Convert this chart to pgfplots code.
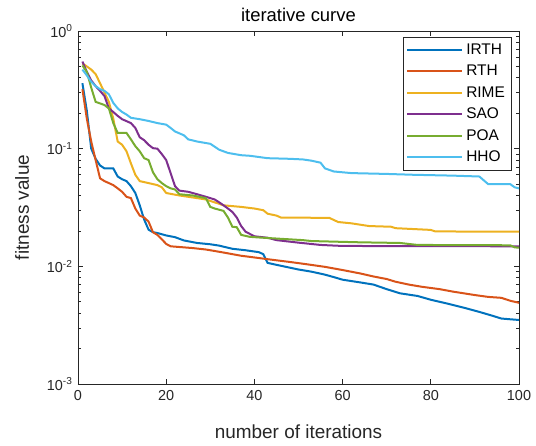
\documentclass[border=0pt]{standalone}
\usepackage{fontspec}
\setmainfont{Liberation Sans}
\usepackage{pgfplots}
\pgfplotsset{compat=1.18}
\definecolor{cIRTH}{RGB}{0,114,189}
\definecolor{cRTH}{RGB}{217,83,25}
\definecolor{cRIME}{RGB}{237,177,32}
\definecolor{cSAO}{RGB}{126,47,142}
\definecolor{cPOA}{RGB}{119,172,48}
\definecolor{cHHO}{RGB}{77,190,238}
\colorlet{axgray}{black!85}
\begin{document}
\begin{tikzpicture}
\begin{semilogyaxis}[
    at={(0,0)}, anchor=south west,
    scale only axis,
    width=441bp, height=353bp,
    xmin=0, xmax=100, ymin=1e-3, ymax=1,
    xtick={0,20,40,60,80,100},
    ytick={0.001,0.01,0.1,1},
    yticklabels={10\textsuperscript{-3},10\textsuperscript{-2},10\textsuperscript{-1},10\textsuperscript{0}},
    /pgf/number format/assume math mode=true,
    tick align=inside,
    major tick length=5bp, minor tick length=3bp,
    axis line style={axgray, line width=0.8bp},
    every tick/.style={axgray, line width=0.7bp},
    tick label style={font=\fontsize{14.5}{17}\selectfont, text=axgray},
    xticklabel style={yshift=-3bp},
    yticklabel style={xshift=-2bp},
    xlabel={number of iterations},
    ylabel={fitness value},
    title={iterative curve},
    label style={font=\fontsize{19}{22}\selectfont, text=axgray},
    xlabel style={at={(axis description cs:0.5,-0.136)}, anchor=center},
    ylabel style={at={(axis description cs:-0.127,0.5)}, anchor=center},
    title style={at={(axis description cs:0.5,1.028)}, anchor=center, font=\fontsize{18.5}{22}\selectfont},
    legend cell align=left,
    legend image code/.code={\draw[#1, line width=2bp] (0bp,0bp) -- (55bp,0bp);},
    legend style={at={(axis description cs:0.982,0.983)}, anchor=north east,
        draw=axgray, font=\fontsize{15.5}{18}\selectfont,
        inner xsep=3bp, inner ysep=2bp, row sep=0bp,
        nodes={inner sep=3bp, text height=12bp, text depth=3.5bp}},
    every axis plot/.append style={line width=2bp},
]
\addplot[cIRTH] coordinates {
(1,0.36)(2,0.21)(3,0.1)(4,0.082)(5,0.072)(6,0.068)(8,0.068)(9,0.058)(10,0.055)(11,0.053)
(12,0.048)(13,0.042)(14,0.033)(15,0.025)(16,0.0205)(17,0.0195)(18,0.0192)(20,0.0183)
(22,0.0177)(24,0.0166)(27,0.0158)(30,0.0154)(32,0.015)(35,0.0141)(38,0.0137)(41,0.0132)
(42,0.0127)(43,0.0107)(45,0.0103)(50,0.0094)(53,0.009)(56,0.0085)(58,0.0081)(60,0.0077)
(64,0.0073)(67,0.0070)(70,0.0064)(73,0.0059)(77,0.0056)(80,0.0052)(84,0.0048)(88,0.0044)
(91,0.0041)(94,0.0038)(96,0.0036)(100,0.0035)
};
\addlegendentry{IRTH}
\addplot[cRTH] coordinates {
(1,0.32)(2,0.18)(3,0.115)(4,0.08)(5,0.056)(6,0.053)(7,0.051)(8,0.049)(9,0.046)(10,0.043)
(11,0.039)(12,0.038)(13,0.031)(14,0.027)(15,0.026)(16,0.024)(17,0.0195)(18,0.0185)
(19,0.017)(20,0.0155)(21,0.0148)(23,0.0146)(26,0.0143)(29,0.0139)(31,0.0135)(33,0.0131)
(37,0.0123)(40,0.0119)(43,0.0115)(48,0.0109)(52,0.0104)(56,0.0099)(60,0.0093)(64,0.0087)
(67,0.0082)(70,0.0078)(72,0.0074)(75,0.007)(78,0.0067)(82,0.0064)(85,0.0061)(90,0.0057)
(93,0.0055)(96,0.0054)(98,0.0051)(100,0.0049)
};
\addlegendentry{RTH}
\addplot[cRIME] coordinates {
(1,0.53)(2,0.5)(3,0.47)(4,0.43)(5,0.36)(6,0.3)(7,0.25)(8,0.18)(9,0.115)(10,0.108)
(11,0.095)(12,0.075)(13,0.06)(14,0.053)(16,0.051)(18,0.049)(19,0.047)(20,0.042)(23,0.040)
(27,0.038)(29,0.037)(32,0.034)(33,0.033)(37,0.032)(40,0.031)(42,0.030)(43,0.028)(45,0.027)
(46,0.026)(57,0.0258)(59,0.0238)(62,0.0232)(66,0.022)(71,0.0217)(72,0.0211)(80,0.0204)
(81,0.0198)(100,0.0197)
};
\addlegendentry{RIME}
\addplot[cSAO] coordinates {
(1,0.55)(2,0.45)(3,0.38)(4,0.34)(5,0.31)(6,0.28)(7,0.22)(8,0.205)(9,0.19)(10,0.178)
(12,0.165)(13,0.15)(14,0.125)(15,0.118)(16,0.108)(17,0.101)(18,0.1)(19,0.09)(20,0.08)
(21,0.062)(22,0.048)(23,0.044)(25,0.043)(27,0.041)(29,0.039)(31,0.037)(32,0.035)(33,0.033)
(34,0.031)(35,0.029)(36,0.026)(37,0.022)(38,0.0197)(40,0.018)(43,0.0175)(45,0.0167)
(50,0.0159)(55,0.0152)(60,0.0149)(100,0.0148)
};
\addlegendentry{SAO}
\addplot[cPOA] coordinates {
(1,0.51)(2,0.45)(3,0.33)(4,0.25)(6,0.235)(7,0.22)(8,0.165)(9,0.136)(11,0.136)(12,0.12)
(13,0.105)(14,0.095)(15,0.083)(16,0.08)(17,0.063)(18,0.055)(19,0.051)(20,0.048)(21,0.046)
(22,0.045)(23,0.041)(26,0.040)(29,0.038)(30,0.032)(31,0.031)(33,0.0296)(34,0.026)
(35,0.0217)(36,0.0215)(37,0.0185)(39,0.0178)(42,0.0175)(51,0.0167)(53,0.0164)(64,0.016)
(73,0.0158)(77,0.0152)(98,0.0151)(99,0.0145)(100,0.0144)
};
\addlegendentry{POA}
\addplot[cHHO] coordinates {
(1,0.47)(2,0.42)(3,0.37)(4,0.34)(5,0.32)(6,0.31)(7,0.29)(8,0.245)(9,0.22)(10,0.205)
(11,0.195)(12,0.183)(14,0.178)(16,0.172)(18,0.165)(20,0.16)(21,0.15)(22,0.14)(24,0.13)
(25,0.12)(27,0.115)(30,0.11)(32,0.098)(34,0.092)(37,0.088)(39,0.087)(43,0.083)(48,0.082)
(51,0.081)(53,0.079)(55,0.076)(56,0.068)(58,0.064)(62,0.062)(70,0.061)(76,0.060)(85,0.059)
(91,0.058)(93,0.05)(98,0.05)(99,0.047)(100,0.046)
};
\addlegendentry{HHO}
\end{semilogyaxis}
\pgfresetboundingbox
\useasboundingbox (-78bp,-62bp) rectangle (458bp,384bp);
\end{tikzpicture}
\end{document}
